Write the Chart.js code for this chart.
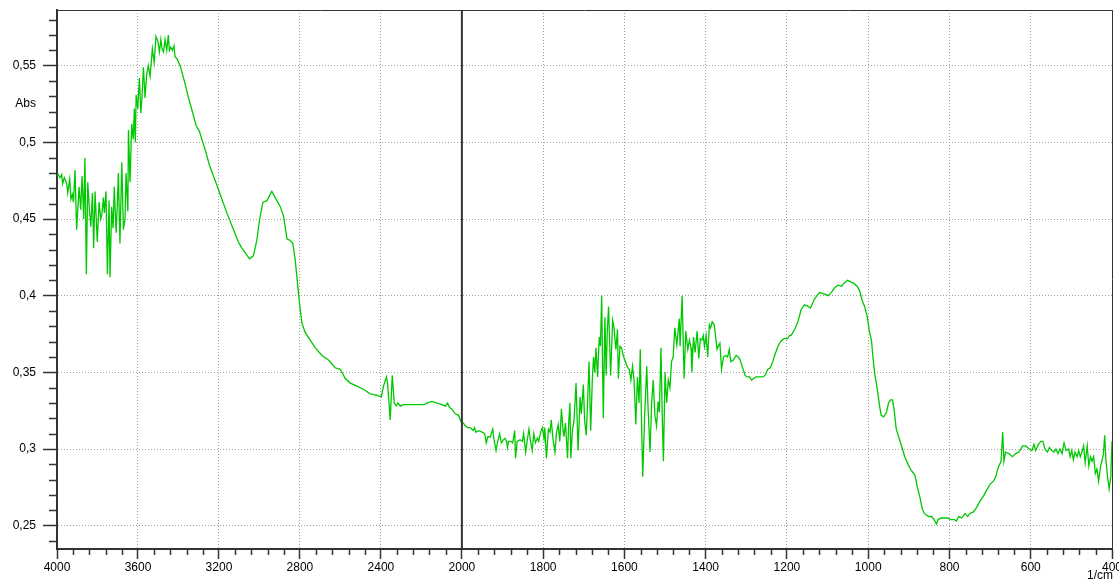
<!DOCTYPE html>
<html>
<head>
<meta charset="utf-8">
<script src="https://cdn.jsdelivr.net/npm/chart.js@4.4.0/dist/chart.umd.min.js"></script>
<style>
  html, body { margin: 0; padding: 0; background: #fff; overflow: hidden; }
  #wrap { width: 1140px; height: 581px; }
</style>
</head>
<body>
<div id="wrap"><canvas id="spectrum"></canvas></div>
<script>
// 4000 - 2000 1/cm (compressed left part of the axis)
const waveHigh = [4000, 3994, 3985, 3977, 3972, 3964, 3952, 3947, 3937, 3931, 3924, 3919, 3911, 3903, 3891, 3883,
  3876, 3868, 3862, 3855, 3848, 3840, 3833, 3825, 3819, 3812, 3801, 3792, 3784, 3778, 3771, 3766, 3758, 3751,
  3743, 3738, 3730, 3723, 3717, 3708, 3702, 3697, 3689, 3680, 3672, 3664, 3659, 3650, 3647, 3639, 3631, 3623,
  3618, 3613, 3609, 3601, 3593, 3586, 3580, 3573, 3565, 3557, 3549, 3540, 3529, 3520, 3511, 3502, 3494, 3487,
  3481, 3474, 3466, 3458, 3450, 3445, 3438, 3430, 3422, 3417, 3405, 3392, 3379, 3367, 3354, 3342, 3329, 3313,
  3296, 3280, 3263, 3247, 3230, 3210, 3194, 3161, 3128, 3104, 3087, 3071, 3049, 3030, 3013, 3000, 2983, 2963,
  2939, 2914, 2897, 2881, 2864, 2848, 2835, 2823, 2812, 2802, 2790, 2774, 2749, 2724, 2691, 2659, 2626, 2601,
  2576, 2551, 2518, 2486, 2453, 2419, 2398, 2387, 2373, 2367, 2354, 2344, 2334, 2324, 2316, 2304, 2288, 2263,
  2239, 2214, 2186, 2173, 2148, 2123, 2099, 2082, 2071, 2061, 2049, 2033, 2016, 2008, 2000];
const absHigh = [0.478, 0.479, 0.477, 0.479, 0.473, 0.477, 0.473, 0.467, 0.476, 0.463, 0.466, 0.461, 0.482, 0.443, 0.471, 0.456,
  0.478, 0.450, 0.490, 0.414, 0.474, 0.456, 0.445, 0.467, 0.431, 0.468, 0.435, 0.461, 0.450, 0.453, 0.464, 0.454, 0.468, 0.414,
  0.462, 0.412, 0.458, 0.444, 0.471, 0.441, 0.459, 0.480, 0.434, 0.487, 0.443, 0.450, 0.480, 0.455, 0.508, 0.474, 0.512, 0.502,
  0.522, 0.500, 0.531, 0.522, 0.542, 0.519, 0.530, 0.549, 0.529, 0.544, 0.550, 0.543, 0.561, 0.552, 0.569, 0.566, 0.559, 0.567,
  0.561, 0.559, 0.567, 0.560, 0.570, 0.560, 0.562, 0.560, 0.563, 0.556, 0.554, 0.550, 0.544, 0.538, 0.531, 0.525, 0.519, 0.511,
  0.507, 0.500, 0.493, 0.485, 0.479, 0.472, 0.466, 0.454, 0.443, 0.435, 0.431, 0.428, 0.424, 0.426, 0.436, 0.449, 0.461, 0.462,
  0.468, 0.462, 0.458, 0.452, 0.437, 0.436, 0.434, 0.423, 0.408, 0.395, 0.382, 0.376, 0.371, 0.366, 0.361, 0.358, 0.353, 0.352,
  0.346, 0.343, 0.341, 0.339, 0.336, 0.335, 0.334, 0.341, 0.347, 0.343, 0.319, 0.348, 0.330, 0.328, 0.330, 0.328, 0.329, 0.329,
  0.329, 0.329, 0.329, 0.330, 0.331, 0.330, 0.329, 0.328, 0.330, 0.327, 0.326, 0.323, 0.322, 0.319, 0.317];

// 2000 - 400 1/cm (expanded right part)
const waveLow = [2000, 1997, 1991, 1986, 1979, 1972, 1969, 1965, 1959, 1950, 1944, 1940, 1936, 1930, 1924, 1922, 1916,
  1911, 1907, 1903, 1898, 1894, 1890, 1888, 1885, 1880, 1875, 1870, 1868, 1864, 1857, 1851, 1848, 1843, 1839, 1835,
  1831, 1827, 1823, 1819, 1814, 1811, 1806, 1802, 1798, 1796, 1792, 1787, 1783, 1780, 1776, 1771, 1767, 1763, 1759,
  1755, 1751, 1749, 1745, 1740, 1737, 1734, 1732, 1728, 1724, 1719, 1714, 1709, 1706, 1701, 1698, 1694, 1691, 1687,
  1683, 1679, 1676, 1673, 1670, 1666, 1662, 1659, 1656, 1652, 1648, 1645, 1642, 1639, 1634, 1629, 1626, 1621, 1617,
  1615, 1611, 1607, 1603, 1599, 1592, 1588, 1584, 1580, 1576, 1572, 1568, 1564, 1561, 1558, 1555, 1550, 1545, 1542,
  1537, 1533, 1529, 1525, 1521, 1517, 1514, 1510, 1507, 1504, 1500, 1496, 1492, 1488, 1484, 1480, 1476, 1471, 1465,
  1463, 1458, 1455, 1453, 1449, 1444, 1440, 1436, 1434, 1430, 1426, 1421, 1417, 1413, 1409, 1406, 1403, 1399, 1395,
  1391, 1388, 1384, 1379, 1375, 1372, 1369, 1365, 1361, 1356, 1350, 1346, 1342, 1338, 1332, 1325, 1320, 1315, 1309,
  1303, 1298, 1292, 1287, 1282, 1276, 1268, 1259, 1254, 1247, 1241, 1235, 1229, 1222, 1216, 1208, 1199, 1194, 1190,
  1181, 1173, 1165, 1157, 1148, 1142, 1132, 1120, 1107, 1099, 1091, 1083, 1074, 1066, 1060, 1051, 1043, 1035, 1027,
  1021, 1015, 1009, 1002, 998, 992, 988, 984, 980, 976, 972, 968, 962, 955, 950, 945, 940, 936, 931, 925, 918, 910,
  902, 894, 885, 879, 873, 867, 862, 857, 851, 844, 838, 832, 828, 821, 813, 805, 797, 788, 783, 777, 770, 762, 755,
  750, 741, 733, 725, 717, 709, 700, 692, 686, 680, 673, 669, 666, 662, 654, 645, 637, 629, 620, 612, 604, 597, 592,
  588, 581, 575, 570, 565, 559, 554, 548, 543, 538, 533, 528, 523, 518, 513, 507, 503, 499, 495, 491, 486, 482, 478,
  474, 470, 466, 461, 457, 453, 449, 445, 441, 437, 433, 428, 425, 421, 418, 415, 411, 407, 403, 400];
const absLow = [0.317, 0.317, 0.315, 0.314, 0.314, 0.312, 0.314, 0.311, 0.312, 0.311, 0.310, 0.304, 0.308, 0.308, 0.313, 0.308, 0.299,
  0.306, 0.310, 0.304, 0.306, 0.307, 0.305, 0.301, 0.305, 0.305, 0.304, 0.312, 0.294, 0.305, 0.306, 0.305, 0.310, 0.298, 0.306, 0.313,
  0.305, 0.299, 0.310, 0.304, 0.307, 0.305, 0.311, 0.314, 0.307, 0.314, 0.294, 0.313, 0.311, 0.319, 0.307, 0.298, 0.311, 0.316, 0.305,
  0.326, 0.312, 0.308, 0.317, 0.294, 0.318, 0.330, 0.294, 0.312, 0.319, 0.343, 0.299, 0.334, 0.323, 0.342, 0.319, 0.309, 0.328, 0.357,
  0.312, 0.345, 0.360, 0.350, 0.366, 0.347, 0.373, 0.367, 0.400, 0.320, 0.386, 0.348, 0.378, 0.393, 0.348, 0.384, 0.380, 0.365, 0.378,
  0.346, 0.367, 0.366, 0.361, 0.358, 0.353, 0.352, 0.345, 0.354, 0.344, 0.316, 0.347, 0.330, 0.365, 0.319, 0.282, 0.323, 0.354, 0.328,
  0.298, 0.330, 0.345, 0.322, 0.315, 0.331, 0.324, 0.366, 0.323, 0.292, 0.350, 0.330, 0.345, 0.340, 0.357, 0.360, 0.379, 0.368, 0.385,
  0.367, 0.400, 0.367, 0.346, 0.377, 0.365, 0.371, 0.366, 0.350, 0.373, 0.363, 0.377, 0.359, 0.372, 0.371, 0.374, 0.367, 0.374, 0.360,
  0.381, 0.379, 0.383, 0.381, 0.372, 0.365, 0.367, 0.369, 0.352, 0.360, 0.361, 0.360, 0.365, 0.357, 0.358, 0.361, 0.360, 0.358, 0.353,
  0.348, 0.347, 0.347, 0.345, 0.346, 0.347, 0.347, 0.347, 0.348, 0.352, 0.353, 0.357, 0.362, 0.367, 0.370, 0.372, 0.372, 0.374, 0.374,
  0.378, 0.383, 0.391, 0.394, 0.393, 0.392, 0.398, 0.402, 0.401, 0.400, 0.402, 0.405, 0.407, 0.406, 0.408, 0.410, 0.409, 0.408, 0.406,
  0.403, 0.397, 0.393, 0.386, 0.378, 0.371, 0.359, 0.349, 0.343, 0.336, 0.328, 0.322, 0.321, 0.324, 0.330, 0.332, 0.332, 0.325, 0.313, 0.308, 0.302, 0.295,
  0.290, 0.286, 0.283, 0.275, 0.269, 0.261, 0.258, 0.257, 0.256, 0.256, 0.254, 0.251, 0.254, 0.255, 0.255, 0.255, 0.254, 0.254, 0.253, 0.256, 0.255, 0.258, 0.256,
  0.258, 0.259, 0.262, 0.266, 0.269, 0.273, 0.277, 0.279, 0.282, 0.288, 0.292, 0.311, 0.292, 0.298, 0.297, 0.295, 0.297, 0.298, 0.302, 0.302, 0.300, 0.299, 0.303,
  0.299, 0.303, 0.305, 0.305, 0.300, 0.298, 0.301, 0.299, 0.298, 0.300, 0.297, 0.300, 0.297, 0.304, 0.299, 0.300, 0.295, 0.299, 0.293, 0.298, 0.295, 0.299, 0.295,
  0.298, 0.302, 0.291, 0.302, 0.289, 0.295, 0.292, 0.295, 0.284, 0.287, 0.279, 0.289, 0.292, 0.297, 0.309, 0.293, 0.282, 0.274, 0.282, 0.305];

const yTicks = [0.25, 0.3, 0.35, 0.4, 0.45, 0.5, 0.55];
const yTickLabels = ['0,25', '0,3', '0,35', '0,4', '0,45', '0,5', '0,55'];
const highTicks = [4000, 3600, 3200, 2800, 2400];
const lowTicks = [2000, 1800, 1600, 1400, 1200, 1000, 800, 600, 400];

const axisColor = '#333';
const gridColor = '#a0a0a0';
const font = { family: "'Liberation Sans', Arial, sans-serif", size: 12 };

function toPoints(xs, ys) {
  return xs.map((x, i) => ({ x, y: ys[i] }));
}

function xAxis(min, max, ticks, weight) {
  return {
    type: 'linear',
    position: 'bottom',
    stack: 'wave',
    stackWeight: weight,
    min, max,
    reverse: true,
    afterBuildTicks: s => { s.ticks = ticks.map(v => ({ value: v })); },
    afterFit: s => { s.height = 32; },
    ticks: { color: '#000', font, autoSkip: false, maxRotation: 0, padding: 1, callback: v => String(v) },
    grid: { color: gridColor, lineWidth: 1, tickColor: axisColor, tickLength: 10, tickWidth: 1.5 },
    border: { color: axisColor, width: 2, dash: [1, 2] }
  };
}

// minor ticks, frame, the solid line at the scale break and the axis unit labels
const framePlugin = {
  id: 'frame',
  afterDraw(chart) {
    const { ctx, chartArea: a } = chart;
    const y = chart.scales.y, xh = chart.scales.xHigh, xl = chart.scales.xLow;
    ctx.save();
    ctx.strokeStyle = axisColor;
    ctx.lineWidth = 1.5;
    ctx.beginPath();
    for (let k = 24; k <= 58; k++) {
      if (k % 5 === 0) continue;
      const py = Math.round(y.getPixelForValue(k / 100)) + 0.5;
      if (py < a.top || py > a.bottom) continue;
      ctx.moveTo(a.left - 8, py);
      ctx.lineTo(a.left, py);
    }
    for (let w = 2080; w < 4000; w += 80) {
      if (w % 400 === 0) continue;
      const px = Math.round(xh.getPixelForValue(w)) + 0.5;
      ctx.moveTo(px, a.bottom);
      ctx.lineTo(px, a.bottom + 6);
    }
    for (let w = 440; w < 2000; w += 40) {
      if (w % 200 === 0) continue;
      const px = Math.round(xl.getPixelForValue(w)) + 0.5;
      ctx.moveTo(px, a.bottom);
      ctx.lineTo(px, a.bottom + 6);
    }
    ctx.stroke();

    ctx.lineWidth = 1;
    ctx.beginPath();
    ctx.moveTo(a.left, Math.round(a.top) + 0.5);
    ctx.lineTo(a.right, Math.round(a.top) + 0.5);
    ctx.moveTo(Math.round(a.right) + 0.5, a.top);
    ctx.lineTo(Math.round(a.right) + 0.5, a.bottom);
    ctx.stroke();

    const xb = xl.getPixelForValue(2000);
    ctx.lineWidth = 2;
    ctx.beginPath();
    ctx.moveTo(xb, a.top);
    ctx.lineTo(xb, a.bottom);
    ctx.stroke();

    ctx.fillStyle = '#000';
    ctx.font = '12px ' + font.family;
    ctx.textAlign = 'right';
    ctx.textBaseline = 'middle';
    ctx.fillText('Abs', a.left - 21, y.getPixelForValue(0.525));
    ctx.fillText('1/cm', a.right + 1, a.bottom + 27);
    ctx.restore();
  }
};

new Chart(document.getElementById('spectrum'), {
  type: 'line',
  data: {
    datasets: [
      { data: toPoints(waveHigh, absHigh), xAxisID: 'xHigh', yAxisID: 'y' },
      { data: toPoints(waveLow, absLow), xAxisID: 'xLow', yAxisID: 'y' }
    ]
  },
  options: {
    responsive: true,
    maintainAspectRatio: false,
    animation: false,
    layout: { padding: { top: 10, right: 28, left: 0, bottom: 0 } },
    elements: {
      line: { borderColor: '#00c800', borderWidth: 1.3, tension: 0 },
      point: { radius: 0 }
    },
    plugins: { legend: { display: false }, tooltip: { enabled: false } },
    scales: {
      xHigh: xAxis(2000, 4000, highTicks, 404.5),
      xLow: xAxis(400, 2000, lowTicks, 649.5),
      y: {
        type: 'linear',
        position: 'left',
        min: 0.2348,
        max: 0.5863,
        afterBuildTicks: s => { s.ticks = yTicks.map(v => ({ value: v })); },
        afterFit: s => { s.width = 57; s.paddingTop = 0; s.paddingBottom = 0; },
        ticks: {
          color: '#000', font, padding: 7,
          callback: (v, i) => yTickLabels[i]
        },
        grid: { color: gridColor, lineWidth: 1, tickColor: axisColor, tickLength: 14, tickWidth: 1.5 },
        border: { color: axisColor, width: 2, dash: [1, 2] }
      }
    }
  },
  plugins: [framePlugin]
});
</script>
</body>
</html>
